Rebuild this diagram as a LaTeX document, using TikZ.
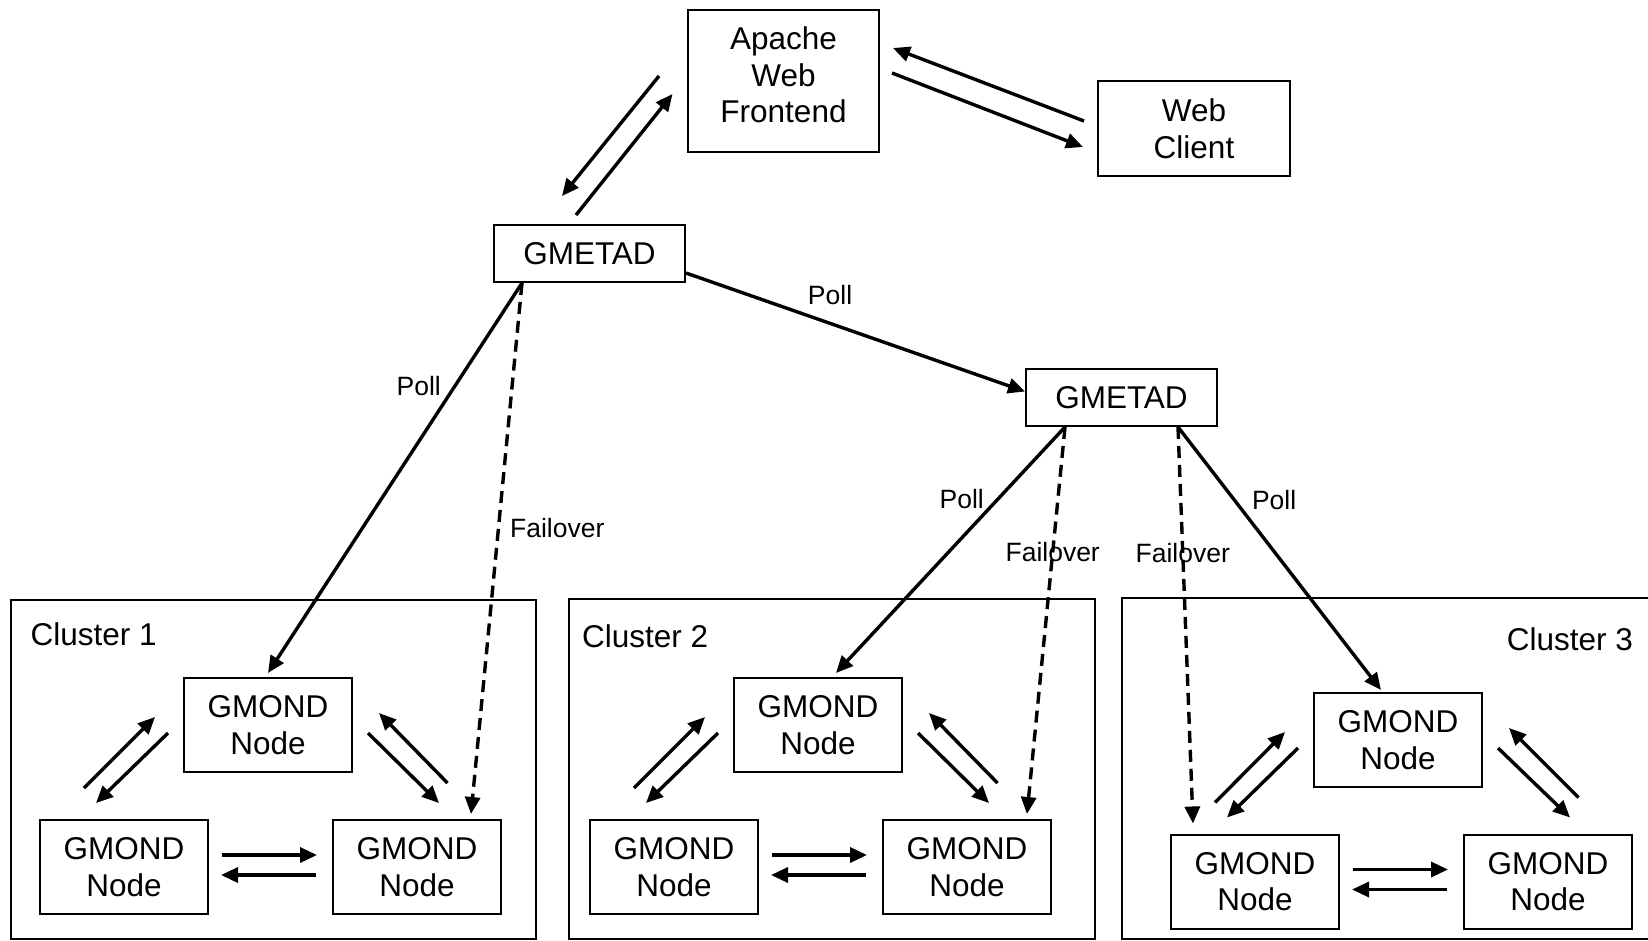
\documentclass[tikz,border=0pt]{standalone}
\usepackage{fontspec}
\setmainfont{Liberation Sans}
\usetikzlibrary{arrows.meta,calc,positioning}

\begin{document}
\begin{tikzpicture}[
x=1pt, y=-1pt,
font=\fontsize{31.5}{36.5}\selectfont
]

\tikzstyle{bx} = [draw, line width=2pt, shape=rectangle, align=center, inner sep=0pt]
\tikzstyle{gm} = [bx, minimum width=168pt, minimum height=94pt]
\tikzstyle{cbox} = [draw, line width=2pt, shape=rectangle, inner sep=0pt]
\tikzstyle{ar} = [line width=3.4pt, -{Triangle[length=17pt,width=15pt]}]
\tikzstyle{fo} = [ar, dash pattern=on 12pt off 7pt]
\tikzstyle{lbl} = [font=\fontsize{26.5}{30}\selectfont, inner sep=1pt]

\clip (0,0) rectangle (1648,940);

\node[bx, minimum width=191pt, minimum height=142pt, text depth=12pt] (apache) at (783.5,81) {Apache\\Web\\Frontend};
\node[bx, minimum width=192pt, minimum height=95pt] (client) at (1194,128.5) {Web\\Client};
\node[bx, minimum width=191pt, minimum height=57pt] (ga) at (589.5,253.5) {GMETAD};
\node[bx, minimum width=191pt, minimum height=57pt] (gb) at (1121.5,397.5) {GMETAD};

% clusters
\node[cbox, minimum width=525.5pt, minimum height=338.5pt] (c1) at (273.25,769.25) {};
\node[cbox, minimum width=526pt, minimum height=339.5pt] (c2) at (832,768.75) {};
\node[cbox, minimum width=540pt, minimum height=340.5pt] (c3) at (1392,768.25) {};
\node[anchor=west, inner sep=0pt] (c1lab) at ($(c1.north west)+(21,35)$) {Cluster 1};
\node[anchor=west, inner sep=0pt] (c2lab) at ($(c2.north west)+(14,38)$) {Cluster 2};
\node[anchor=east, inner sep=0pt] (c3lab) at ($(c3.north west)+(512,42)$) {Cluster 3};

\node[gm] (t1) at (268,725) {GMOND\\Node};
\node[gm] (l1) at (124,867) {GMOND\\Node};
\node[gm] (r1) at (417,867) {GMOND\\Node};

\node[gm] (t2) at (818,725) {GMOND\\Node};
\node[gm] (l2) at (674,867) {GMOND\\Node};
\node[gm] (r2) at (967,867) {GMOND\\Node};

\node[gm] (t3) at (1398,740) {GMOND\\Node};
\node[gm] (l3) at (1255,881.5) {GMOND\\Node};
\node[gm] (r3) at (1548,881.5) {GMOND\\Node};

% frontend
\draw[ar] ($(apache.west)+(-28,-5)$) -- ($(ga.north)+(-27.5,-28)$);
\draw[ar] ($(ga.north)+(-13.5,-9)$) -- ($(apache.west)+(-14.5,13)$);
\draw[ar] ($(client.west)+(-13,-7.5)$) -- ($(apache.east)+(13,-33)$);
\draw[ar] ($(apache.east)+(12,-8)$) -- ($(client.west)+(-14,18.5)$);

% polling
\draw[ar] ($(ga.east)+(0,19.5)$) -- node[lbl, pos=.425, yshift=28pt] (p1) {Poll} ($(gb.west)+(0,-6)$);
\draw[ar] ($(ga.south)+(-67.5,0)$) -- node[lbl, pos=.265, xshift=-36pt] (p2) {Poll} ($(t1.north)+(0,-4)$);
\draw[fo] ($(ga.south)+(-67.5,0)$) -- node[lbl, pos=.4615, anchor=west, xshift=9pt] (f1) {Failover} ($(r1.north)+(54,-5)$);
\draw[ar] ($(gb.south)+(-56.5,0)$) -- node[lbl, pos=.294, xshift=-36pt] (p3) {Poll} ($(t2.north)+(18,-4)$);
\draw[fo] ($(gb.south)+(-56.5,0)$) -- node[lbl, pos=.324] (f2) {Failover} ($(r2.north)+(60,-5)$);
\draw[fo] ($(gb.south)+(56.5,0)$) -- node[lbl, pos=.317] (f3) {Failover} ($(l3.north)+(-62,-10)$);
\draw[ar] ($(gb.south)+(56.5,0)$) -- node[lbl, pos=.2765, xshift=40pt] (p4) {Poll} ($(t3.north)+(-17,-2)$);

% cluster 1
\draw[ar] ($(l1.north)+(-40,-31)$) -- ($(t1.west)+(-28,-8)$);
\draw[ar] ($(t1.west)+(-15,8)$) -- ($(l1.north)+(-28,-16)$);
\draw[ar] ($(r1.north)+(30.5,-36)$) -- ($(t1.east)+(26,-12)$);
\draw[ar] ($(t1.east)+(15,8)$) -- ($(r1.north)+(22,-16)$);
\draw[ar] ($(l1.east)+(13,-12)$) -- ($(r1.west)+(-15,-12)$);
\draw[ar] ($(r1.west)+(-16,8)$) -- ($(l1.east)+(12,8)$);

% cluster 2
\draw[ar] ($(l2.north)+(-40,-31)$) -- ($(t2.west)+(-28,-8)$);
\draw[ar] ($(t2.west)+(-15,8)$) -- ($(l2.north)+(-28,-16)$);
\draw[ar] ($(r2.north)+(30.5,-36)$) -- ($(t2.east)+(26,-12)$);
\draw[ar] ($(t2.east)+(15,8)$) -- ($(r2.north)+(22,-16)$);
\draw[ar] ($(l2.east)+(13,-12)$) -- ($(r2.west)+(-15,-12)$);
\draw[ar] ($(r2.west)+(-16,8)$) -- ($(l2.east)+(12,8)$);

% cluster 3
\draw[ar] ($(l3.north)+(-40,-31)$) -- ($(t3.west)+(-28,-8)$);
\draw[ar] ($(t3.west)+(-15,8)$) -- ($(l3.north)+(-28,-16)$);
\draw[ar] ($(r3.north)+(30.5,-36)$) -- ($(t3.east)+(26,-12)$);
\draw[ar] ($(t3.east)+(15,8)$) -- ($(r3.north)+(22,-16)$);
\draw[ar] ($(l3.east)+(13,-12)$) -- ($(r3.west)+(-15,-12)$);
\draw[ar] ($(r3.west)+(-16,8)$) -- ($(l3.east)+(12,8)$);
\end{tikzpicture}
\end{document}
